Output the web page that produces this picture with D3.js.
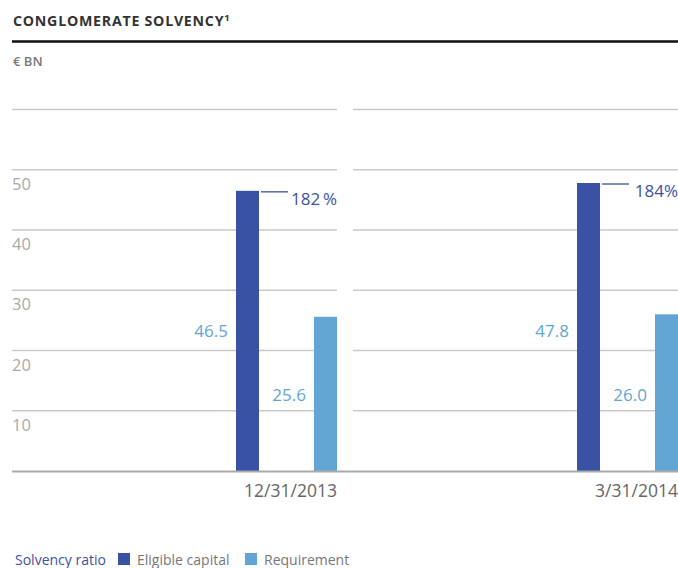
<!DOCTYPE html>
<html><head><meta charset="utf-8">
<script src="https://cdn.jsdelivr.net/npm/d3@7"></script>
<style>body{margin:0;background:#fff;} svg{display:block;font-family:"Open Sans",sans-serif;}</style>
</head><body>
<svg id="c" width="678" height="568"></svg>
<script>
const dates = ["12/31/2013", "3/31/2014"];
const series = ["Eligible capital", "Requirement"];
const eligible = [46.5, 47.8];
const requirement = [25.6, 26.0];
const ratios = ["182\u2009%", "184%"];
const yTicks = [10, 20, 30, 40, 50, 60];
const colors = {"Eligible capital": "#3a52a3", "Requirement": "#62a5d5"};

const svg = d3.select("#c");
const W = 678;
const y = d3.scaleLinear().domain([0, 60]).range([471, 109.5]);
const xPanel = d3.scaleBand().domain(dates).range([12, 678]).paddingInner(16/341).paddingOuter(0);
const pw = xPanel.bandwidth();
const xIn = d3.scaleBand().domain(series).range([pw - 101, pw]).paddingInner(55/78).paddingOuter(0);

// title
svg.append("text").attr("x", 13).attr("y", 26).attr("font-size", 14.2).attr("font-weight", 700)
  .attr("fill", "#333").attr("letter-spacing", 0.75).text("CONGLOMERATE SOLVENCY")
  .append("tspan").attr("font-size", 9.5).attr("dy", -5).text("1");
svg.append("line").attr("x1", 12).attr("x2", W).attr("y1", 41.5).attr("y2", 41.5).attr("stroke", "#111").attr("stroke-width", 2.5);
svg.append("text").attr("x", 13).attr("y", 66).attr("font-size", 13).attr("font-weight", 600).attr("fill", "#777").text("€ BN");

// gridlines per panel
dates.forEach(d => {
  const x0 = xPanel(d);
  svg.append("g").selectAll("line").data(yTicks).join("line")
    .attr("x1", x0).attr("x2", x0 + pw).attr("y1", v => y(v)).attr("y2", v => y(v))
    .attr("stroke", "#c9c9c9").attr("stroke-width", 1.5);
});
// tick labels
svg.append("g").selectAll("text").data(yTicks.filter(v => v < 60)).join("text")
  .attr("x", 12).attr("y", v => y(v) + 20).attr("font-size", 16.5).attr("fill", "#aaa").text(v => v);

// bars
dates.forEach((d, i) => {
  const x0 = xPanel(d);
  const vals = [eligible[i], requirement[i]];
  svg.append("g").selectAll("rect").data(series).join("rect")
    .attr("x", s => x0 + xIn(s)).attr("width", xIn.bandwidth())
    .attr("y", (s, j) => y(vals[j])).attr("height", (s, j) => y(0) - y(vals[j]))
    .attr("fill", s => colors[s]);
  // value labels
  svg.append("text").attr("x", x0 + xIn(series[0]) - 8).attr("y", 337).attr("text-anchor", "end")
    .attr("font-size", 17).attr("fill", "#62a5d5").text(eligible[i].toFixed(1));
  svg.append("text").attr("x", x0 + xIn(series[1]) - 8).attr("y", 401).attr("text-anchor", "end")
    .attr("font-size", 17).attr("fill", "#62a5d5").text(requirement[i].toFixed(1));
  // ratio
  const bx = x0 + xIn(series[0]) + xIn.bandwidth();
  const by = y(eligible[i]) + 1;
  svg.append("line").attr("x1", bx + 2).attr("x2", bx + 29).attr("y1", by).attr("y2", by)
    .attr("stroke", "#3a52a3").attr("stroke-width", 1.3);
  svg.append("text").attr("x", x0 + pw).attr("y", by + 13).attr("text-anchor", "end")
    .attr("font-size", 17).attr("fill", "#3a52a3").text(ratios[i]);
  // x label
  svg.append("text").attr("x", x0 + pw).attr("y", 497).attr("text-anchor", "end")
    .attr("font-size", 17.5).attr("fill", "#666").text(d);
});
// baseline
svg.append("line").attr("x1", 12).attr("x2", W).attr("y1", y(0) + 0.5).attr("y2", y(0) + 0.5).attr("stroke", "#aaa").attr("stroke-width", 2);

// legend
const lg = svg.append("g").attr("font-size", 14);
lg.append("text").attr("x", 15).attr("y", 565).attr("fill", "#3a52a3").text("Solvency ratio");
const items = [{s: "Eligible capital", x: 118}, {s: "Requirement", x: 245}];
items.forEach(it => {
  lg.append("rect").attr("x", it.x).attr("y", 553).attr("width", 12).attr("height", 12).attr("fill", colors[it.s]);
  lg.append("text").attr("x", it.x + 19).attr("y", 565).attr("fill", "#777").text(it.s);
});
</script>
</body></html>
